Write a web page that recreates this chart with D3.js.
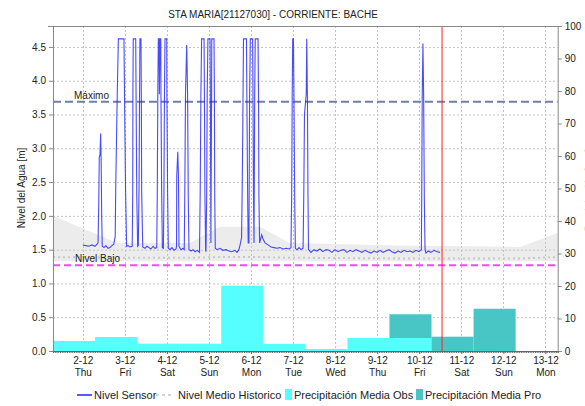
<!DOCTYPE html>
<html>
<head>
<meta charset="utf-8">
<script src="https://cdn.jsdelivr.net/npm/d3@7"></script>
<style>
    body { margin: 0; background: #fff; }
    svg text { font-family: "Liberation Sans", Arial, sans-serif; fill: #222; }
</style>
</head>
<body>
<div id="chart"></div>
<script>
// chart data
const title = 'STA MARIA[21127030] - CORRIENTE: BACHE'
const yLabel = 'Nivel del Agua [m]'
const yLabelRight = 'Precipitación [mm]'
const legendNames = ['Nivel Sensor', 'Nivel Medio Historico', 'Precipitación Media Obs', 'Precipitación Media Pro']

// x ticks (december 2021, midnight)
const tickDays = [2, 3, 4, 5, 6, 7, 8, 9, 10, 11, 12, 13]
const tickLabels = ['2-12', '3-12', '4-12', '5-12', '6-12', '7-12', '8-12', '9-12', '10-12', '11-12', '12-12', '13-12']
const tickWeekdays = ['Thu', 'Fri', 'Sat', 'Sun', 'Mon', 'Tue', 'Wed', 'Thu', 'Fri', 'Sat', 'Sun', 'Mon']
const leftTicks = [0, 0.5, 1, 1.5, 2, 2.5, 3, 3.5, 4, 4.5]
const rightTicks = [0, 10, 20, 30, 40, 50, 60, 70, 80, 90, 100]

// thresholds [m]
const nivelMaximo = 3.69
const nivelBajo = 1.27

// daily precipitation [mm], each day runs from 07:00 to 07:00 of the next day
const precipDays = [1, 2, 3, 4, 5, 6, 7, 8, 9, 10, 11, 12]
const precipObs = [3.1, 4.3, 2.25, 2.25, 20.1, 2.2, 0.6, 4.0, 4.0, null, null, null]
const precipPro = [null, null, null, null, null, null, null, null, 11.3, 4.4, 13.0, null]

// historic level band (hours from 2-12 00:00)
const histHours = [-17, 19.5, 61.2, 78.3, 101.1, 118.2, 180, 249.5, 271]
const histUpper = [2.0, 1.6, 1.6, 1.84, 1.84, 1.6, 1.56, 1.54, 1.75]
const histMean = [1.39, 1.38, 1.38, 1.39, 1.39, 1.38, 1.37, 1.37, 1.39]
const histLower = [1.33, 1.33, 1.33, 1.33, 1.33, 1.33, 1.33, 1.33, 1.33]

// sensor readings [hours from 2-12 00:00, level m]
const sensorReadings = [
    [0, 1.57], [1.8, 1.56], [3.5, 1.55], [5.2, 1.57], [7.0, 1.55], [8.1, 1.58], [8.7, 1.60],
    [9.1, 2.15], [9.4, 2.87], [9.8, 2.90], [10.2, 3.22], [10.5, 2.78], [10.8, 1.98], [11.1, 1.55],
    [12.1, 1.53], [13.2, 1.56], [14.4, 1.52], [15.5, 1.53], [16.6, 1.56], [17.7, 1.58], [18.5, 1.70],
    [18.8, 2.43], [19.7, 3.85], [20.3, 4.62], [23.5, 4.62], [23.9, 3.55], [24.4, 2.40], [25.0, 1.55],
    [25.8, 1.56], [26.9, 1.54], [28.2, 1.55], [28.5, 2.35], [28.6, 3.80], [28.8, 4.62], [30.2, 4.62],
    [30.4, 3.80], [30.8, 2.30], [31.3, 1.55], [31.7, 1.56], [32.1, 2.40], [32.4, 3.80], [32.6, 4.62],
    [33.2, 4.62], [33.4, 3.80], [33.6, 2.35], [34.2, 1.54], [35.5, 1.52], [36.6, 1.55], [37.8, 1.53],
    [38.9, 1.51], [40.1, 1.55], [41.2, 1.52], [42.2, 1.53], [42.5, 2.30], [42.8, 3.80], [43.1, 4.62],
    [43.5, 4.62], [43.7, 3.80], [44.1, 4.62], [44.5, 4.62], [44.6, 3.80], [45.0, 2.35], [45.4, 1.53],
    [46.0, 1.52], [46.3, 2.35], [46.6, 3.80], [46.9, 4.62], [47.9, 4.62], [48.0, 3.80], [48.4, 2.35],
    [48.8, 1.52], [49.8, 1.50], [50.9, 1.53], [52.0, 1.49], [53.2, 1.51], [53.5, 1.55], [53.6, 2.58],
    [54.2, 2.95], [54.6, 2.58], [54.9, 1.55], [56.0, 1.50], [57.2, 1.52], [57.9, 1.50], [58.2, 2.30],
    [58.6, 3.80], [59.3, 4.53], [59.8, 3.80], [60.2, 2.25], [60.6, 1.50], [61.8, 1.48], [62.9, 1.50],
    [64.0, 1.47], [65.2, 1.49], [66.6, 1.46], [67.0, 2.35], [67.4, 3.80], [67.8, 4.62], [69.2, 4.62],
    [69.4, 3.80], [69.7, 2.30], [70.1, 1.50], [70.3, 1.47], [70.7, 2.30], [71.0, 3.80], [71.4, 4.62],
    [72.6, 4.62], [72.8, 3.80], [73.0, 2.30], [73.1, 1.60], [73.5, 3.80], [73.6, 4.62], [74.9, 4.62],
    [75.1, 3.75], [75.3, 2.30], [75.6, 1.52], [76.6, 1.50], [78.3, 1.52], [80.0, 1.49], [81.7, 1.50],
    [83.4, 1.48], [85.1, 1.47], [86.8, 1.49], [88.0, 1.46], [89.1, 1.50], [90.0, 1.60], [90.6, 1.68],
    [91.0, 2.50], [91.3, 3.30], [91.7, 4.62], [93.4, 4.62], [93.7, 3.50], [94.1, 2.20], [94.4, 1.60],
    [94.8, 1.60], [95.2, 3.80], [95.6, 4.62], [96.9, 4.62], [97.1, 3.90], [97.4, 2.30], [97.7, 1.60],
    [98.1, 3.80], [98.4, 4.62], [100.0, 4.62], [100.3, 3.70], [100.5, 2.30], [100.9, 1.60], [102.1, 1.72],
    [102.8, 1.66], [104.0, 1.60], [105.7, 1.57], [107.4, 1.54], [109.1, 1.53], [110.8, 1.52], [112.5, 1.53],
    [114.2, 1.51], [116.0, 1.52], [117.7, 1.51], [118.8, 1.53], [119.2, 2.30], [119.5, 3.80], [119.8, 4.62],
    [120.2, 4.62], [120.5, 3.75], [120.9, 2.30], [121.3, 1.52], [122.2, 1.50], [123.4, 1.53], [124.5, 1.50],
    [125.7, 1.52], [126.1, 2.30], [126.5, 3.50], [127.0, 3.65], [127.5, 3.80], [127.8, 4.62], [128.2, 3.70],
    [128.5, 2.30], [128.8, 1.50], [130.2, 1.46], [131.9, 1.50], [133.6, 1.48], [135.3, 1.51], [137.0, 1.47],
    [138.8, 1.50], [140.5, 1.49], [142.2, 1.46], [143.9, 1.50], [145.6, 1.47], [147.3, 1.49], [149.0, 1.50],
    [150.7, 1.46], [152.5, 1.49], [154.2, 1.47], [155.9, 1.50], [157.6, 1.48], [159.3, 1.46], [161.0, 1.49],
    [162.7, 1.47], [164.4, 1.45], [166.2, 1.48], [167.9, 1.46], [169.6, 1.49], [171.3, 1.46], [173.0, 1.48],
    [174.7, 1.50], [176.4, 1.47], [178.1, 1.45], [179.8, 1.48], [181.6, 1.46], [183.3, 1.49], [185.0, 1.47],
    [186.7, 1.48], [188.4, 1.46], [190.1, 1.49], [191.8, 1.47], [193.2, 1.50], [193.4, 2.25], [193.7, 3.79],
    [194.1, 4.55], [194.5, 3.79], [194.9, 2.25], [195.3, 1.50], [195.8, 1.45], [197.0, 1.48], [198.7, 1.46],
    [200.4, 1.49], [202.1, 1.47], [203.8, 1.46]
]

// time of the current reading (red marker)
const nowDay = 10
const nowHour = 13

// dimensions
const w = 585
const h = 406
const pl = 53
const pr = 557.7
const pt = 26
const pb = 351

const svg = d3.select('#chart')
    .append('svg')
    .attr('width', w)
    .attr('height', h)

// scales
const x = d3.scaleTime()
    .domain([new Date(2021, 11, 1, 7), new Date(2021, 11, 13, 7)])
    .range([pl, pr])
const yL = d3.scaleLinear().domain([0, 4.81]).range([pb, pt])
const yR = d3.scaleLinear().domain([0, 100]).range([pb, pt])

const base = new Date(2021, 11, 2, 0)
const hourDate = (hr) => new Date(base.getTime() + hr * 3600e3)
const tickDates = tickDays.map(d => new Date(2021, 11, d))

// title
svg.append('text')
    .attr('x', 273)
    .attr('y', 18)
    .attr('text-anchor', 'middle')
    .style('font-size', '10px')
    .text(title)

// historic band
const hist = histHours.map((hr, i) => ({ hr, up: histUpper[i], mean: histMean[i], low: histLower[i] }))
svg.append('path')
    .datum(hist)
    .attr('fill', '#ececec')
    .attr('d', d3.area()
        .x(d => x(hourDate(d.hr)))
        .y0(d => yL(d.low))
        .y1(d => yL(d.up)))

// grid
const grid = svg.append('g').attr('stroke', '#c4c4c4').attr('stroke-dasharray', '2,2')
grid.selectAll('.hg')
    .data(leftTicks.filter(v => v > 0))
    .enter()
    .append('line')
    .attr('x1', pl).attr('x2', pr)
    .attr('y1', d => yL(d) + 0.5).attr('y2', d => yL(d) + 0.5)
grid.selectAll('.vg')
    .data(tickDates)
    .enter()
    .append('line')
    .attr('x1', d => Math.round(x(d)) + 0.5).attr('x2', d => Math.round(x(d)) + 0.5)
    .attr('y1', pt).attr('y2', pb)

// precipitation bars
const dayStart = (d) => new Date(2021, 11, d, 7)
const drawBars = (vals, colour) => {
    const data = precipDays.map((d, i) => ({ d, v: vals[i] })).filter(e => e.v != null)
    svg.append('g')
        .selectAll('rect')
        .data(data)
        .enter()
        .append('rect')
        .attr('x', e => x(dayStart(e.d)))
        .attr('width', e => x(dayStart(e.d + 1)) - x(dayStart(e.d)))
        .attr('y', e => yR(e.v))
        .attr('height', e => yR(0) - yR(e.v))
        .attr('fill', colour)
}
drawBars(precipPro, '#48c6c6')
drawBars(precipObs, '#55ffff')

// historic mean line
svg.append('path')
    .datum(hist)
    .attr('fill', 'none')
    .attr('stroke', '#c8c8c8')
    .attr('stroke-width', 2)
    .attr('stroke-dasharray', '2,3')
    .attr('d', d3.line().x(d => x(hourDate(d.hr))).y(d => yL(d.mean)))

// thresholds
svg.append('line')
    .attr('x1', pl).attr('x2', pr)
    .attr('y1', yL(nivelMaximo)).attr('y2', yL(nivelMaximo))
    .attr('stroke', '#6f7fa8').attr('stroke-width', 2).attr('stroke-dasharray', '8,4')
svg.append('text')
    .attr('x', 74).attr('y', yL(nivelMaximo) - 3)
    .style('font-size', '10px')
    .text('Máximo')
svg.append('line')
    .attr('x1', pl).attr('x2', pr)
    .attr('y1', yL(nivelBajo)).attr('y2', yL(nivelBajo))
    .attr('stroke', '#ff44ff').attr('stroke-width', 2).attr('stroke-dasharray', '7,4')
svg.append('text')
    .attr('x', 75).attr('y', yL(nivelBajo) - 3)
    .style('font-size', '10px')
    .text('Nivel Bajo')

// sensor line
svg.append('path')
    .datum(sensorReadings)
    .attr('fill', 'none')
    .attr('stroke', '#2a2aff')
    .attr('stroke-width', 1.1)
    .attr('stroke-opacity', 0.85)
    .attr('d', d3.line().x(d => x(hourDate(d[0]))).y(d => yL(d[1])))

// now marker
const nowX = x(new Date(2021, 11, nowDay, nowHour))
svg.append('line')
    .attr('x1', nowX).attr('x2', nowX)
    .attr('y1', pt).attr('y2', pb)
    .attr('stroke', '#ff2020')

// frame top
svg.append('line')
    .attr('x1', pl - 5).attr('x2', pr + 4)
    .attr('y1', pt + 0.5).attr('y2', pt + 0.5)
    .attr('stroke', '#888')

// left axis
const leftAxis = svg.append('g')
    .attr('transform', `translate(${pl},0)`)
    .call(d3.axisLeft(yL).tickValues(leftTicks).tickFormat(d3.format('.1f')).tickSize(4))
leftAxis.select('.domain').attr('stroke', '#888')
leftAxis.selectAll('.tick line').attr('stroke', '#888')
leftAxis.selectAll('text').style('font-size', '10px').attr('fill', '#222')

// right axis
const rightAxis = svg.append('g')
    .attr('transform', `translate(${pr},0)`)
    .call(d3.axisRight(yR).tickValues(rightTicks).tickSize(4))
rightAxis.select('.domain').attr('stroke', '#888')
rightAxis.selectAll('.tick line').attr('stroke', '#888')
rightAxis.selectAll('text').style('font-size', '10px').attr('fill', '#222')

// bottom axis, hourly minor ticks
const minorAxis = svg.append('g')
    .attr('transform', `translate(0,${pb})`)
    .call(d3.axisBottom(x).ticks(d3.timeHour.every(1)).tickFormat('').tickSize(2))
minorAxis.select('.domain').attr('stroke', '#666')
minorAxis.selectAll('.tick line').attr('stroke', '#666')

// bottom axis labels
const xAxis = svg.append('g')
    .attr('transform', `translate(0,${pb})`)
    .call(d3.axisBottom(x).tickValues(tickDates).tickFormat((d, i) => tickLabels[i]).tickSize(3))
xAxis.select('.domain').remove()
xAxis.selectAll('.tick line').attr('stroke', '#666')
xAxis.selectAll('text')
    .style('font-size', '10px')
    .attr('fill', '#222')
    .attr('y', 6)
    .each(function (d, i) {
        d3.select(this).append('tspan')
            .attr('x', 0)
            .attr('dy', '1.15em')
            .text(tickWeekdays[i])
    })

// axis titles (the right one is clipped by the page edge, as in the original)
svg.append('text')
    .attr('transform', 'translate(25,188) rotate(-90)')
    .attr('text-anchor', 'middle')
    .style('font-size', '10px')
    .text(yLabel)
svg.append('text')
    .attr('transform', 'translate(593,190) rotate(-90)')
    .attr('text-anchor', 'middle')
    .style('font-size', '10px')
    .text(yLabelRight)

// legend
const lg = svg.append('g').style('font-size', '11px')
const ly = 399
lg.append('line').attr('x1', 77).attr('x2', 92).attr('y1', ly - 4).attr('y2', ly - 4)
    .attr('stroke', '#2020ff').attr('stroke-width', 1.5)
lg.append('text').attr('x', 94).attr('y', ly).text(legendNames[0])
lg.append('line').attr('x1', 156).attr('x2', 174).attr('y1', ly - 4).attr('y2', ly - 4)
    .attr('stroke', '#c8c8c8').attr('stroke-width', 1.5).attr('stroke-dasharray', '3,3')
lg.append('text').attr('x', 178).attr('y', ly).text(legendNames[1])
lg.append('rect').attr('x', 285).attr('y', ly - 10).attr('width', 7).attr('height', 11).attr('fill', '#55ffff')
lg.append('text').attr('x', 294).attr('y', ly).text(legendNames[2])
lg.append('rect').attr('x', 416).attr('y', ly - 10).attr('width', 7).attr('height', 11).attr('fill', '#48c6c6')
lg.append('text').attr('x', 425).attr('y', ly).text(legendNames[3])
</script>
</body>
</html>
